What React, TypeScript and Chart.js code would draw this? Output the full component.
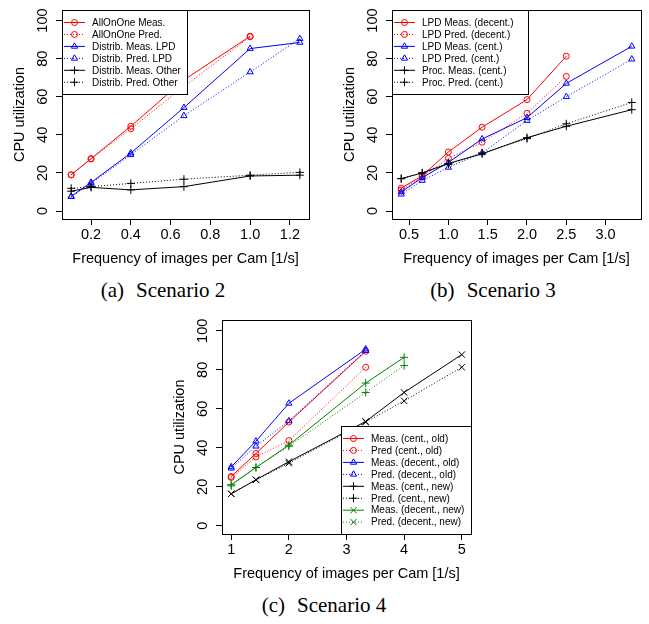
import React, { useEffect, useRef } from 'react';
import { Chart, registerables } from 'chart.js';

Chart.register(...registerables);

// ---------- (a) Scenario 2 ----------
const freqA = [0.1, 0.2, 0.4, 0.667, 1.0, 1.25];
const allOnOneMeasA = [19, 27.5, 44.5, 68.8, 91.8];
const allOnOnePredA = [19, 27.3, 43.2, 65.4, 91.5];
const distMeasLpdA = [7.7, 15, 30.4, 54.3, 85.3, 88.5];
const distPredLpdA = [7.5, 14.5, 29.5, 50, 73, 90.5];
const distMeasOtherA = [10.4, 12.4, 11.1, 12.8, 18.4, 18.8];
const distPredOtherA = [11.9, 12.8, 14.5, 16.7, 18.8, 20.3];
const xTicksA = [0.2, 0.4, 0.6, 0.8, 1.0, 1.2];

// ---------- (b) Scenario 3 ----------
const freqB = [0.4, 0.667, 1.0, 1.429, 2.0, 2.5, 3.333];
const lpdMeasDecB = [12, 18.5, 31, 44, 58.5, 81.3];
const lpdPredDecB = [11, 18, 27.6, 36.1, 51.3, 70.7];
const lpdMeasCenB = [10, 17.5, 25.5, 37.8, 49, 67, 86.5];
const lpdPredCenB = [8.8, 16, 22.9, 30.5, 47.5, 60, 79.7];
const procMeasCenB = [17, 20, 25, 30, 38.5, 44.5, 53.2];
const procPredCenB = [17, 20, 24.5, 30.5, 38, 45.8, 57];
const xTicksB = [0.5, 1.0, 1.5, 2.0, 2.5, 3.0];

// ---------- (c) Scenario 4 ----------
const freqC = [1, 1.429, 2, 3.333, 4, 5];
const measCenOldC = [25.3, 37.1, 53.2, 89.5];
const predCenOldC = [24.8, 35.3, 43.7, 81.3];
const measDecOldC = [30.2, 43.4, 62.8, 90.6];
const predDecOldC = [29.5, 40.8, 53.8, 89.8];
const measCenNewC = [16.4, 23.6, 32.9, 53.5, 68.4, 87.8];
const predCenNewC = [16.4, 23.6, 32.1, 53.2, 64.1, 81.3];
const measDecNewC = [21.1, 29.9, 41.4, 73.2, 86.4];
const predDecNewC = [20.5, 29.9, 40.8, 68.4, 82.2];
const xTicksC = [1, 2, 3, 4, 5];

const yTicks = [0, 20, 40, 60, 80, 100];

// ---------- styling ----------
const RED = '#ff0000';
const BLUE = '#0000ff';
const BLACK = '#000000';
const GREEN = '#008000';
const SANS = '"Liberation Sans", Arial, Helvetica, sans-serif';
const SERIF = '"Liberation Serif", "Times New Roman", serif';

type Marker = 'circle' | 'triangle' | 'cross' | 'crossRot';

interface SeriesSpec {
  label: string;
  xs: number[];
  ys: number[];
  color: string;
  dotted: boolean;
  marker: Marker;
  legendMarker?: Marker;
}

interface PanelSpec {
  left: number;
  top: number;
  w: number;
  h: number;
  area: { l: number; t: number; r: number; b: number };
  series: SeriesSpec[];
  xTicks: number[];
  xDigits: number;
  legendCorner: 'topleft' | 'bottomright';
  legendWidth: number;
}

function markerRadius(m: Marker) {
  if (m === 'circle') return 3;
  if (m === 'triangle') return 3.6;
  if (m === 'cross') return 4;
  return 4.5;
}

function drawMarker(ctx: CanvasRenderingContext2D, m: Marker, x: number, y: number, color: string) {
  const r = markerRadius(m);
  ctx.save();
  ctx.setLineDash([]);
  ctx.strokeStyle = color;
  ctx.lineWidth = 1;
  ctx.beginPath();
  if (m === 'circle') {
    ctx.arc(x, y, r, 0, Math.PI * 2);
  } else if (m === 'triangle') {
    for (let k = 0; k < 3; k++) {
      const a = (k * 2 * Math.PI) / 3;
      const px = x + Math.sin(a) * r;
      const py = y - Math.cos(a) * r;
      if (k === 0) ctx.moveTo(px, py);
      else ctx.lineTo(px, py);
    }
    ctx.closePath();
  } else if (m === 'cross') {
    ctx.moveTo(x - r, y);
    ctx.lineTo(x + r, y);
    ctx.moveTo(x, y - r);
    ctx.lineTo(x, y + r);
  } else {
    const d = r * Math.SQRT1_2;
    ctx.moveTo(x - d, y - d);
    ctx.lineTo(x + d, y + d);
    ctx.moveTo(x - d, y + d);
    ctx.lineTo(x + d, y - d);
  }
  ctx.stroke();
  ctx.restore();
}

const boxPlugin = {
  id: 'rBox',
  afterDraw(chart: any) {
    const { ctx, chartArea } = chart;
    ctx.save();
    ctx.strokeStyle = '#000';
    ctx.lineWidth = 1;
    ctx.setLineDash([]);
    ctx.strokeRect(
      Math.round(chartArea.left) + 0.5,
      Math.round(chartArea.top) + 0.5,
      Math.round(chartArea.right - chartArea.left),
      Math.round(chartArea.bottom - chartArea.top)
    );
    ctx.restore();
  },
};

const insetLegendPlugin = {
  id: 'insetLegend',
  afterDatasetsDraw(chart: any, _args: any, opts: any) {
    const { ctx, chartArea } = chart;
    const ds = chart.data.datasets;
    const n = ds.length;
    const rowH = 11.95;
    const w = opts.width;
    const h = Math.round(12.5 + (n - 1) * rowH + 12);
    const x0 = opts.corner === 'topleft' ? Math.round(chartArea.left) : Math.round(chartArea.right) - w;
    const y0 = opts.corner === 'topleft' ? Math.round(chartArea.top) : Math.round(chartArea.bottom) - h;
    ctx.save();
    ctx.fillStyle = '#fff';
    ctx.fillRect(x0, y0, w, h);
    ctx.strokeStyle = '#000';
    ctx.lineWidth = 1;
    ctx.strokeRect(x0 + 0.5, y0 + 0.5, w, h);
    ctx.font = `10px ${SANS}`;
    ctx.textBaseline = 'middle';
    ctx.textAlign = 'left';
    ds.forEach((d: any, i: number) => {
      const y = y0 + 12.5 + i * rowH;
      ctx.save();
      ctx.strokeStyle = d.borderColor;
      ctx.lineWidth = 1;
      ctx.setLineDash(d.borderDash || []);
      ctx.beginPath();
      ctx.moveTo(x0 + 2, y);
      ctx.lineTo(x0 + 23, y);
      ctx.stroke();
      ctx.restore();
      drawMarker(ctx, d.legendMarker, x0 + 12.5, y, d.borderColor);
      ctx.fillStyle = '#000';
      ctx.fillText(d.label, x0 + 30, y + 0.5);
    });
    ctx.restore();
  },
};

function makeDataset(s: SeriesSpec, i: number, n: number) {
  return {
    label: s.label,
    data: s.ys.map((y, k) => ({ x: s.xs[k], y })),
    borderColor: s.color,
    backgroundColor: s.color,
    borderWidth: 1,
    borderDash: s.dotted ? [1, 2] : [],
    pointStyle: s.marker,
    pointRadius: markerRadius(s.marker),
    pointBorderWidth: 1,
    pointBorderColor: s.color,
    pointBackgroundColor: 'rgba(0,0,0,0)',
    fill: false,
    tension: 0,
    order: n - i,
    legendMarker: s.legendMarker ?? s.marker,
  };
}

function Panel({ spec }: { spec: PanelSpec }) {
  const ref = useRef<HTMLCanvasElement>(null);
  useEffect(() => {
    const { w, h, area } = spec;
    const allX = spec.series.flatMap((s) => s.xs);
    const xMin = Math.min(...allX);
    const xMax = Math.max(...allX);
    const pad = (xMax - xMin) * 0.04;
    const tickFont = { family: SANS, size: 14.5, lineHeight: 1.2 };
    const gridOpts = {
      display: true,
      drawOnChartArea: false,
      drawTicks: true,
      tickLength: 6,
      color: '#000',
      lineWidth: 1,
    };
    const chart = new Chart(ref.current!, {
      type: 'line',
      data: { datasets: spec.series.map((s, i) => makeDataset(s, i, spec.series.length)) as any },
      options: {
        responsive: false,
        animation: false,
        devicePixelRatio: 1,
        events: [],
        layout: { padding: { left: 0, top: area.t, right: w - area.r, bottom: 0 } },
        plugins: {
          legend: { display: false },
          tooltip: { enabled: false },
          insetLegend: { corner: spec.legendCorner, width: spec.legendWidth },
        } as any,
        scales: {
          x: {
            type: 'linear',
            position: 'bottom',
            min: xMin - pad,
            max: xMax + pad,
            afterBuildTicks: (s: any) => {
              s.ticks = spec.xTicks.map((v) => ({ value: v }));
            },
            afterFit: (s: any) => {
              s.height = h - area.b;
            },
            grid: gridOpts,
            border: { display: false },
            ticks: {
              color: '#000',
              font: tickFont,
              padding: 1.3,
              minRotation: 0,
              maxRotation: 0,
              autoSkip: false,
              callback: (v: any) => Number(v).toFixed(spec.xDigits),
            },
            title: {
              display: true,
              text: 'Frequency of images per Cam [1/s]',
              color: '#000',
              font: tickFont,
              padding: { top: 0, bottom: h - area.b - 40 - 8.7 },
            },
          },
          y: {
            type: 'linear',
            position: 'left',
            min: -4.2,
            max: 105.5,
            afterBuildTicks: (s: any) => {
              s.ticks = yTicks.map((v) => ({ value: v }));
            },
            afterFit: (s: any) => {
              s.width = area.l;
            },
            grid: gridOpts,
            border: { display: false },
            ticks: {
              color: '#000',
              font: tickFont,
              padding: 1.4,
              minRotation: 90,
              maxRotation: 90,
              crossAlign: 'center',
              autoSkip: false,
              callback: (v: any) => String(v),
            },
            title: {
              display: true,
              text: 'CPU utilization',
              color: '#000',
              font: tickFont,
              padding: { top: area.l - 42 - 8.7, bottom: 0 },
            },
          },
        } as any,
      },
      plugins: [boxPlugin, insetLegendPlugin],
    });
    return () => chart.destroy();
  }, [spec]);
  return (
    <canvas
      ref={ref}
      width={spec.w}
      height={spec.h}
      style={{ position: 'absolute', left: spec.left, top: spec.top, width: spec.w, height: spec.h }}
    />
  );
}

const panelA: PanelSpec = {
  left: 0,
  top: 0,
  w: 320,
  h: 270,
  area: { l: 62, t: 5, r: 309, b: 219 },
  xTicks: xTicksA,
  xDigits: 1,
  legendCorner: 'topleft',
  legendWidth: 125,
  series: [
    { label: 'AllOnOne Meas.', xs: freqA, ys: allOnOneMeasA, color: RED, dotted: false, marker: 'circle' },
    { label: 'AllOnOne Pred.', xs: freqA, ys: allOnOnePredA, color: RED, dotted: true, marker: 'circle' },
    { label: 'Distrib. Meas. LPD', xs: freqA, ys: distMeasLpdA, color: BLUE, dotted: false, marker: 'triangle' },
    { label: 'Distrib. Pred. LPD', xs: freqA, ys: distPredLpdA, color: BLUE, dotted: true, marker: 'triangle' },
    { label: 'Distrib. Meas. Other', xs: freqA, ys: distMeasOtherA, color: BLACK, dotted: false, marker: 'cross' },
    { label: 'Distrib. Pred. Other', xs: freqA, ys: distPredOtherA, color: BLACK, dotted: true, marker: 'cross' },
  ],
};

const panelB: PanelSpec = {
  left: 320,
  top: 0,
  w: 329,
  h: 270,
  area: { l: 72, t: 6, r: 321, b: 219 },
  xTicks: xTicksB,
  xDigits: 1,
  legendCorner: 'topleft',
  legendWidth: 136,
  series: [
    { label: 'LPD Meas. (decent.)', xs: freqB, ys: lpdMeasDecB, color: RED, dotted: false, marker: 'circle' },
    { label: 'LPD Pred. (decent.)', xs: freqB, ys: lpdPredDecB, color: RED, dotted: true, marker: 'circle' },
    { label: 'LPD Meas. (cent.)', xs: freqB, ys: lpdMeasCenB, color: BLUE, dotted: false, marker: 'triangle' },
    { label: 'LPD Pred. (cent.)', xs: freqB, ys: lpdPredCenB, color: BLUE, dotted: true, marker: 'triangle' },
    { label: 'Proc. Meas. (cent.)', xs: freqB, ys: procMeasCenB, color: BLACK, dotted: false, marker: 'cross' },
    { label: 'Proc. Pred. (cent.)', xs: freqB, ys: procPredCenB, color: BLACK, dotted: true, marker: 'cross' },
  ],
};

const panelC: PanelSpec = {
  left: 160,
  top: 310,
  w: 330,
  h: 275,
  area: { l: 62, t: 7, r: 311, b: 224 },
  xTicks: xTicksC,
  xDigits: 0,
  legendCorner: 'bottomright',
  legendWidth: 130,
  series: [
    { label: 'Meas. (cent., old)', xs: freqC, ys: measCenOldC, color: RED, dotted: false, marker: 'circle' },
    { label: 'Pred (cent., old)', xs: freqC, ys: predCenOldC, color: RED, dotted: true, marker: 'circle' },
    { label: 'Meas. (decent., old)', xs: freqC, ys: measDecOldC, color: BLUE, dotted: false, marker: 'triangle' },
    { label: 'Pred. (decent., old)', xs: freqC, ys: predDecOldC, color: BLUE, dotted: true, marker: 'triangle' },
    { label: 'Meas. (cent., new)', xs: freqC, ys: measCenNewC, color: BLACK, dotted: false, marker: 'crossRot', legendMarker: 'cross' },
    { label: 'Pred. (cent., new)', xs: freqC, ys: predCenNewC, color: BLACK, dotted: true, marker: 'crossRot', legendMarker: 'cross' },
    { label: 'Meas. (decent., new)', xs: freqC, ys: measDecNewC, color: GREEN, dotted: false, marker: 'cross', legendMarker: 'crossRot' },
    { label: 'Pred. (decent., new)', xs: freqC, ys: predDecNewC, color: GREEN, dotted: true, marker: 'cross', legendMarker: 'crossRot' },
  ],
};

function Caption({ cx, baseline, tag, text }: { cx: number; baseline: number; tag: string; text: string }) {
  return (
    <div
      style={{
        position: 'absolute',
        left: cx - 120,
        width: 240,
        top: baseline - 17.6,
        textAlign: 'center',
        fontFamily: SERIF,
        fontSize: 21,
        lineHeight: '21px',
        whiteSpace: 'nowrap',
        color: '#000',
      }}
    >
      {tag}
      <span style={{ display: 'inline-block', width: 12 }} />
      {text}
    </div>
  );
}

export default function App() {
  return (
    <div style={{ position: 'absolute', left: 0, top: 0, width: 649, height: 624, background: '#fff', overflow: 'hidden' }}>
      <Panel spec={panelA} />
      <Panel spec={panelB} />
      <Panel spec={panelC} />
      <Caption cx={163} baseline={297.7} tag="(a)" text="Scenario 2" />
      <Caption cx={493} baseline={297.7} tag="(b)" text="Scenario 3" />
      <Caption cx={324} baseline={613} tag="(c)" text="Scenario 4" />
    </div>
  );
}
